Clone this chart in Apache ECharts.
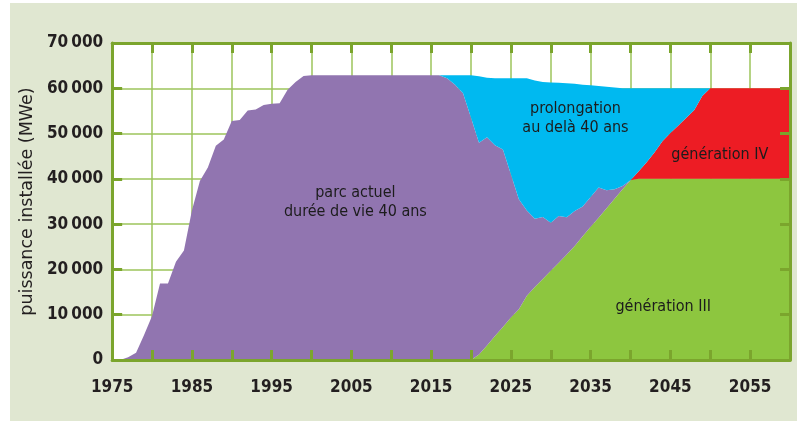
<!DOCTYPE html>
<html>
<head>
<meta charset="utf-8">
<script src="https://cdn.jsdelivr.net/npm/echarts@6/dist/echarts.min.js"></script>
<style>
  html, body { margin: 0; padding: 0; background: #fff; }
  #chart { position: absolute; left: 10px; top: 3px; width: 787px; height: 418px; background: #e0e7d1; }
</style>
</head>
<body>
<div id="chart"></div>
<script>
// years 1975 .. 2060
var years = [];
for (var y = 1975; y <= 2060; y++) years.push(String(y));

// génération III (bottom of the stack)
var gen3 = [
  0, 0, 0, 0, 0, 0, 0, 0, 0, 0,             // 1975-1984
  0, 0, 0, 0, 0, 0, 0, 0, 0, 0,             // 1985-1994
  0, 0, 0, 0, 0, 0, 0, 0, 0, 0,             // 1995-2004
  0, 0, 0, 0, 0, 0, 0, 0, 0, 0,             // 2005-2014
  0, 0, 0, 0, 0, 0, 1200, 3200, 5300, 7300, // 2015-2024
  9400, 11200, 14200, 16100, 17900, 19700, 21500, 23300, 25200, 27300, // 2025-2034
  29400, 31400, 33500, 35600, 37700, 39700, 40000, 40000, 40000, 40000, // 2035-2044
  40000, 40000, 40000, 40000, 40000, 40000, 40000, 40000, 40000, 40000, // 2045-2054
  40000, 40000, 40000, 40000, 40000, 40000  // 2055-2060
];

// parc actuel, durée de vie 40 ans
var parcActuel = [
  0, 0, 600, 1600, 5500, 9700, 16900, 16900, 21700, 24200,            // 1975-1984
  33000, 39500, 42500, 47300, 48700, 52800, 53000, 55100, 55300, 56300, // 1985-1994
  56600, 56700, 59700, 61400, 62700, 62900, 62900, 62900, 62900, 62900, // 1995-2004
  62900, 62900, 62900, 62900, 62900, 62900, 62900, 62900, 62900, 62900, // 2005-2014
  62900, 62900, 62200, 60800, 58900, 53500, 46800, 46000, 42100, 39200, // 2015-2024
  31600, 24300, 18800, 15100, 13700, 10600, 10300, 8200, 7700, 6600,   // 2025-2034
  6600, 6700, 4000, 2100, 700, 0, 0, 0, 0, 0,                          // 2035-2044
  0, 0, 0, 0, 0, 0, 0, 0, 0, 0,                                        // 2045-2054
  0, 0, 0, 0, 0, 0                                                     // 2055-2060
];

// génération IV
var gen4 = [
  0, 0, 0, 0, 0, 0, 0, 0, 0, 0,
  0, 0, 0, 0, 0, 0, 0, 0, 0, 0,
  0, 0, 0, 0, 0, 0, 0, 0, 0, 0,
  0, 0, 0, 0, 0, 0, 0, 0, 0, 0,
  0, 0, 0, 0, 0, 0, 0, 0, 0, 0,
  0, 0, 0, 0, 0, 0, 0, 0, 0, 0,             // 2025-2034
  0, 0, 0, 0, 0, 0, 1600, 3600, 5800, 8300, // 2035-2044
  10100, 11800, 13500, 15200, 18300, 20000, 20000, 20000, 20000, 20000, // 2045-2054
  20000, 20000, 20000, 20000, 20000, 20000  // 2055-2060
];

// prolongation au delà 40 ans
var prolongation = [
  0, 0, 0, 0, 0, 0, 0, 0, 0, 0,
  0, 0, 0, 0, 0, 0, 0, 0, 0, 0,
  0, 0, 0, 0, 0, 0, 0, 0, 0, 0,
  0, 0, 0, 0, 0, 0, 0, 0, 0, 0,
  0, 0, 700, 2100, 4000, 9400, 14650, 13150, 14800, 15700,              // 2015-2024
  21200, 26700, 29200, 30500, 29800, 31000, 29400, 29600, 28100, 26900, // 2025-2034
  24650, 22400, 22850, 22500, 21600, 20300, 18400, 16400, 14200, 11700, // 2035-2044
  9900, 8200, 6500, 4800, 1700, 0, 0, 0, 0, 0,                          // 2045-2054
  0, 0, 0, 0, 0, 0
];

// area labels: [year, MWe, text]
var areaLabels = [
  [2005.5, 34900, 'parc actuel\ndurée de vie 40 ans'],
  [2033.1, 53400, 'prolongation\nau delà 40 ans'],
  [2051.2, 45300, 'génération IV'],
  [2044.1, 11700, 'génération III']
];

var FONT = '"DejaVu Sans Condensed", "Liberation Sans Narrow", "DejaVu Sans", sans-serif';
var DARK = '#7ba52d';
var LIGHT = '#9dc55b';
var TEXT = '#231f20';

function every(n) {
  return function (index) { return index % n === 0; };
}

function areaSeries(name, arr, color) {
  return {
    name: name,
    type: 'line',
    stack: 'total',
    xAxisIndex: 0,
    yAxisIndex: 0,
    symbol: 'none',
    lineStyle: { width: 0 },
    areaStyle: { color: color, opacity: 1 },
    data: arr,
    silent: true
  };
}

var chart = echarts.init(document.getElementById('chart'));

var frameX = {
  type: 'value', min: 1975, max: 2060, interval: 5, z: 10,
  axisLine: { show: true, onZero: false, lineStyle: { color: DARK, width: 3 } },
  axisTick: { show: true, inside: true, length: 10, lineStyle: { color: DARK, width: 3 } },
  axisLabel: { show: false },
  splitLine: { show: false }
};
var frameY = {
  type: 'value', min: 0, max: 70000, interval: 10000, z: 10,
  axisLine: { show: true, onZero: false, lineStyle: { color: DARK, width: 3 } },
  axisTick: { show: true, inside: true, length: 10, lineStyle: { color: DARK, width: 3 } },
  axisLabel: { show: false },
  splitLine: { show: false }
};

var option = {
  animation: false,
  grid: {
    left: 101, right: 7, top: 40, bottom: 61,
    show: true, backgroundColor: '#ffffff', borderWidth: 0
  },
  xAxis: [
    {
      type: 'category', data: years, boundaryGap: false, position: 'bottom',
      axisLine: { show: false },
      axisTick: { show: false },
      splitLine: { show: true, interval: every(5), lineStyle: { color: LIGHT, width: 1.5 } },
      axisLabel: {
        margin: 19, interval: every(10),
        color: TEXT, fontFamily: FONT, fontWeight: 'bold', fontSize: 17
      }
    },
    Object.assign({ position: 'bottom' }, frameX),
    Object.assign({ position: 'top' }, frameX)
  ],
  yAxis: [
    {
      type: 'value', min: 0, max: 70000, interval: 10000, position: 'left',
      name: 'puissance installée (MWe)',
      nameLocation: 'middle', nameGap: 70,
      nameTextStyle: { color: TEXT, fontFamily: '"DejaVu Sans", sans-serif', fontSize: 17.5 },
      axisLine: { show: false },
      axisTick: { show: false },
      splitLine: { show: true, lineStyle: { color: LIGHT, width: 1.5 } },
      axisLabel: {
        margin: 9,
        color: TEXT, fontFamily: FONT, fontWeight: 'bold', fontSize: 17,
        formatter: function (v) { return v === 0 ? '0' : (v / 1000) + '\u2009000'; }
      }
    },
    Object.assign({ position: 'left' }, frameY),
    Object.assign({ position: 'right' }, frameY)
  ],
  series: [
    areaSeries('génération III', gen3, '#8dc63f'),
    areaSeries('parc actuel', parcActuel, '#9175b0'),
    areaSeries('génération IV', gen4, '#ed1c24'),
    areaSeries('prolongation', prolongation, '#00b9f0'),
    {
      type: 'scatter',
      xAxisIndex: 1,
      yAxisIndex: 0,
      symbolSize: 0,
      silent: true,
      z: 5,
      data: areaLabels.map(function (d) { return { value: [d[0], d[1]], name: d[2] }; }),
      label: {
        show: true,
        position: 'inside',
        formatter: '{b}',
        color: '#1c1c1c',
        opacity: 1,
        fontFamily: FONT,
        fontSize: 16,
        lineHeight: 19,
        align: 'center',
        verticalAlign: 'middle'
      }
    }
  ]
};

chart.setOption(option);
</script>
</body>
</html>
